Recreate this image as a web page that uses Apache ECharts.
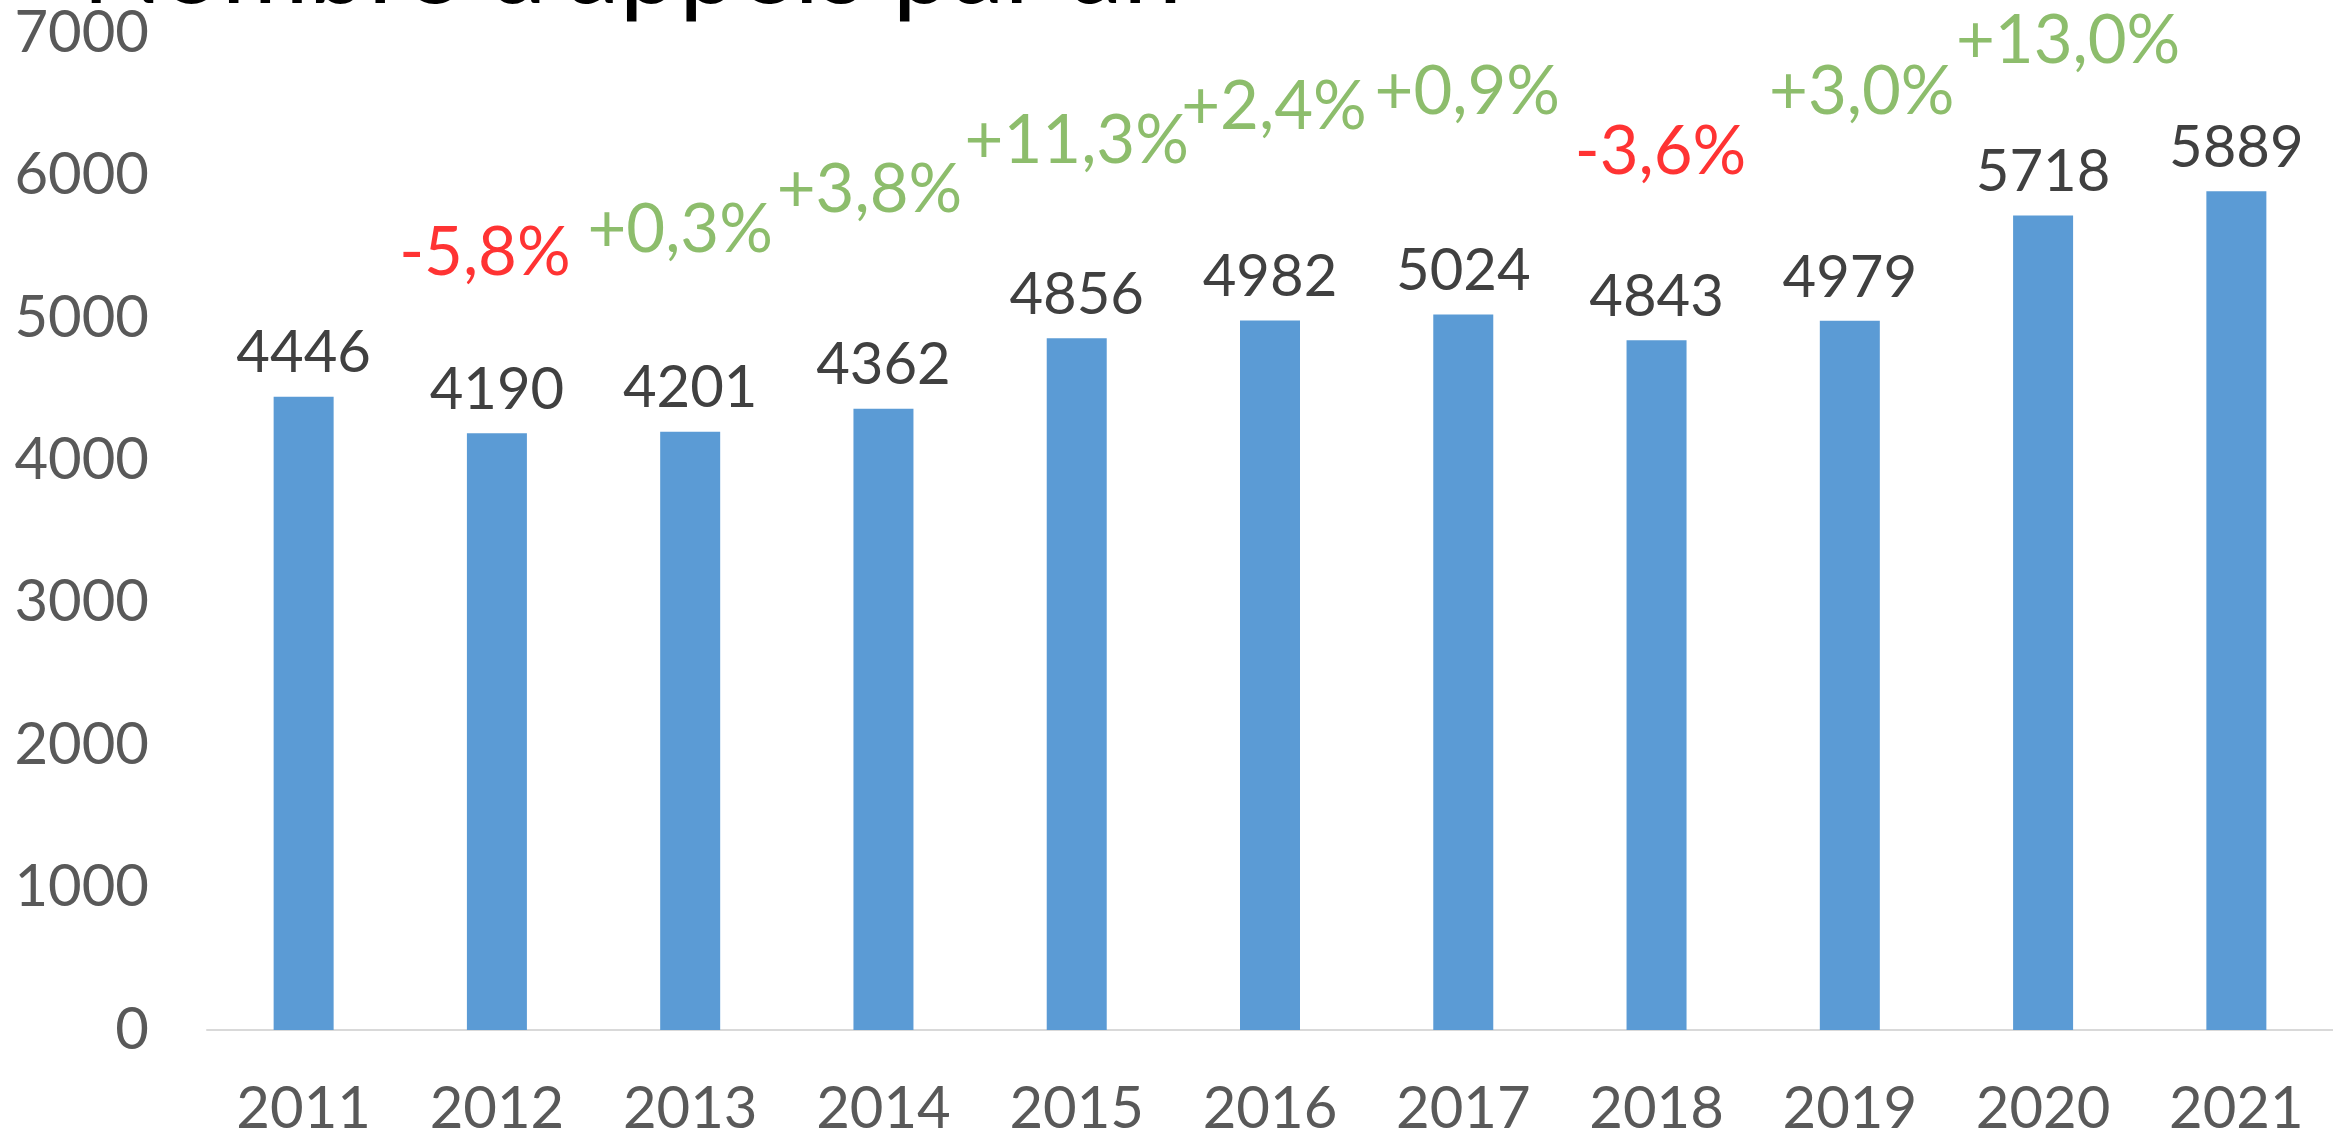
<!DOCTYPE html>
<html>
<head>
<meta charset="utf-8">
<script src="https://cdn.jsdelivr.net/npm/echarts@6/dist/echarts.min.js"></script>
<style>
  html, body { margin: 0; padding: 0; background: #fff; }
  #chart { width: 2333px; height: 1140px; }
</style>
</head>
<body>
<div id="chart"></div>
<script>
// donnees
var annees = ['2011', '2012', '2013', '2014', '2015', '2016', '2017', '2018', '2019', '2020', '2021'];
var appels = [4446, 4190, 4201, 4362, 4856, 4982, 5024, 4843, 4979, 5718, 5889];
// evolutions affichees au-dessus des barres (annee, libelle, hauteur du texte en unites de l'axe)
var evolAnnee = ['2012', '2013', '2014', '2015', '2016', '2017', '2018', '2019', '2020'];
var evolTexte = ['-5,8%', '+0,3%', '+3,8%', '+11,3%', '+2,4%', '+0,9%', '-3,6%', '+3,0%', '+13,0%'];
var evolHauteur = [5455, 5611, 5893, 6238, 6479, 6583, 6165, 6583, 6938];
var yTicks = [0, 1000, 2000, 3000, 4000, 5000, 6000, 7000];

var police = 'Lato, "Open Sans", sans-serif';
// petit decalage horizontal des libelles (px), comme dans l'original
var decalX = [-12, -10, -14, 0, 4, 4, 4, 12, 25];

var evolData = evolAnnee.map(function (a, i) {
  var neg = evolTexte[i].charAt(0) === '-';
  return {
    value: [a, evolHauteur[i]],
    label: { formatter: evolTexte[i], color: neg ? '#FF0000' : '#70AD47', offset: [decalX[i], 0] }
  };
});

var chart = echarts.init(document.getElementById('chart'));
chart.setOption({
  animation: false,
  graphic: [{
    type: 'text',
    left: 82,
    top: -84,
    style: {
      text: "Nombre d'appels par an",
      font: '106px ' + police,
      fill: '#000000'
    }
  }],
  grid: { left: 207, top: 33, width: 2133, bottom: 110, containLabel: false },
  xAxis: {
    type: 'category',
    data: annees,
    axisLine: { lineStyle: { color: '#D9D9D9', width: 2 } },
    axisTick: { show: false },
    axisLabel: { color: '#595959', fontSize: 58, fontFamily: police, margin: 50 }
  },
  yAxis: {
    type: 'value',
    min: yTicks[0],
    max: yTicks[yTicks.length - 1],
    interval: 1000,
    splitLine: { show: false },
    axisLine: { show: false },
    axisTick: { show: false },
    axisLabel: {
      color: '#595959', fontSize: 58, fontFamily: police, margin: 58,
      formatter: function (v) { return String(v); }
    }
  },
  series: [{
    type: 'bar',
    data: appels,
    barWidth: 60,
    itemStyle: { color: '#5B9BD5' },
    label: {
      show: true,
      position: 'top',
      distance: 14,
      color: '#404040',
      fontSize: 58,
      fontFamily: police
    }
  }, {
    type: 'scatter',
    data: evolData,
    symbolSize: 0,
    label: {
      show: true,
      position: 'inside',
      fontSize: 67,
      fontFamily: police
    }
  }]
});
</script>
</body>
</html>
